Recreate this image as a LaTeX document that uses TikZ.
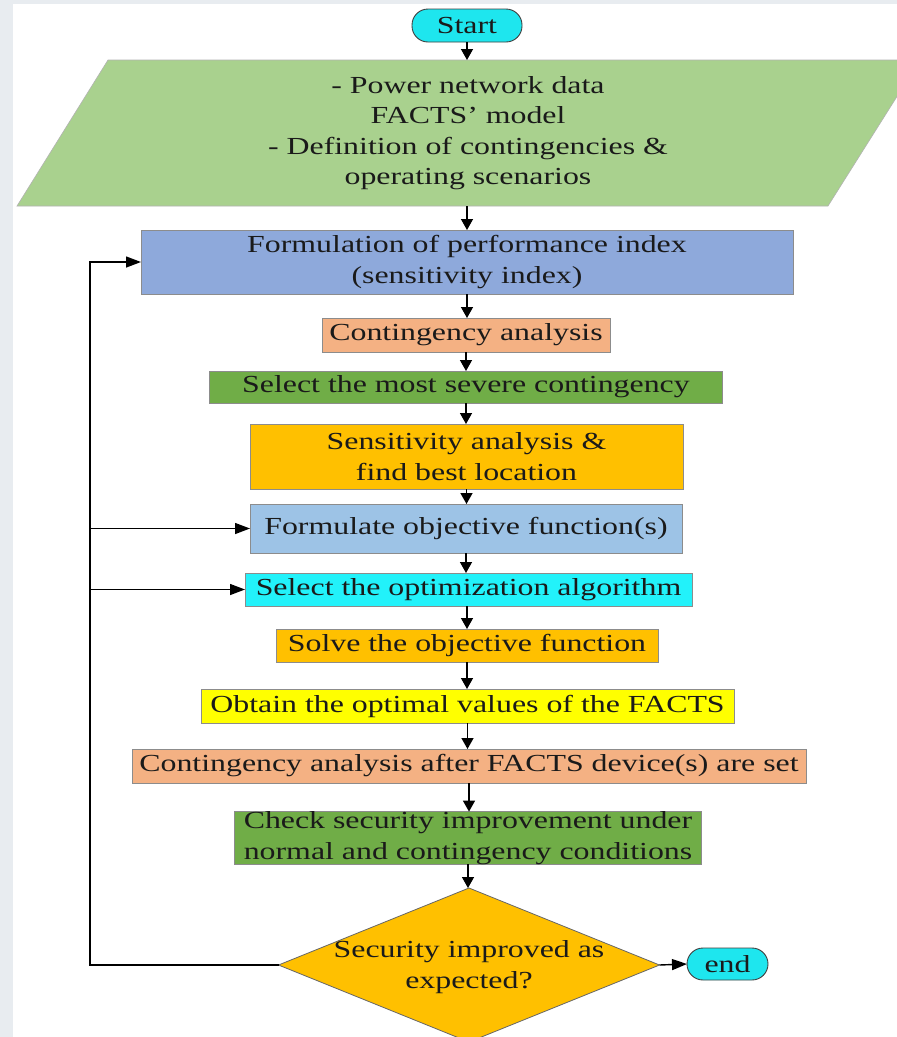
\documentclass[tikz,border=0pt]{standalone}
\usepackage{fontspec}
\setmainfont[FakeStretch=1.3]{Liberation Serif}
\usetikzlibrary{shapes.geometric,arrows.meta}
\definecolor{bggray}{HTML}{E8ECF0}
\definecolor{termcyan}{HTML}{1EE6EE}
\definecolor{algcyan}{HTML}{22F2FA}
\definecolor{greenA}{HTML}{A9D18E}
\definecolor{greenB}{HTML}{70AD47}
\definecolor{blueA}{HTML}{8EA9DB}
\definecolor{blueB}{HTML}{9DC3E6}
\definecolor{salmon}{HTML}{F4B183}
\definecolor{gold}{HTML}{FFC000}
\definecolor{yellowA}{HTML}{FFFF00}
\definecolor{txtdark}{HTML}{1A1A1A}
\begin{document}
\begin{tikzpicture}[x=1pt,y=-1pt,
  every node/.style={inner sep=0pt, outer sep=0pt},
  txt/.style={font=\fontsize{24.5}{30.5}\selectfont, text=txtdark, align=center},
  proc/.style={txt, rectangle, draw=black!45, line width=0.6pt},
  term/.style={txt, rectangle, draw=black!75, line width=0.9pt, fill=termcyan, rounded corners=16pt},
  varr/.style={-{Triangle[length=11pt,width=12pt]}, line width=1.4pt},
  harr/.style={-{Triangle[length=15pt,width=11pt]}, line width=1.4pt},
  plainline/.style={line width=1.4pt}]
\useasboundingbox (0,0) rectangle (897,1037);
\fill[bggray] (0,0) rectangle (897,1037);
\fill[white] (13,4) rectangle (897,1037);
\begin{scope}
  \clip (13,4) rectangle (897,1037);
  \filldraw[fill=greenA, draw=black!30, line width=0.6pt] (108,60) -- (920,60) -- (828,206) -- (17,206) -- cycle;
  \node[diamond, fill=gold, draw=black!60, line width=0.8pt, minimum width=381pt, minimum height=154pt] (dec) at (469,965) {};
\end{scope}

\node[term, minimum width=110pt, minimum height=33pt] (start) at (467,25.5) {Start};
\node[txt, minimum width=700pt, minimum height=146pt] (data) at (468,133)
  {- Power network data\\FACTS’ model\\- Definition of contingencies \&\\operating scenarios};
\node[proc, fill=blueA, minimum width=652pt, minimum height=64pt] (perf) at (467,262)
  {Formulation of performance index\\(sensitivity index)};
\node[proc, fill=salmon, minimum width=288pt, minimum height=34pt] (ca) at (466,335) {Contingency analysis};
\node[proc, fill=greenB, minimum width=513pt, minimum height=32pt] (sev) at (466,387) {Select the most severe contingency};
\node[proc, fill=gold, minimum width=433pt, minimum height=65pt] (sens) at (466.5,456.5)
  {Sensitivity analysis \&\\find best location};
\node[proc, fill=blueB, minimum width=432pt, minimum height=49pt] (obj) at (466,528.5) {Formulate objective function(s)};
\node[proc, fill=algcyan, minimum width=447pt, minimum height=33pt] (alg) at (468.5,589.5) {Select the optimization algorithm};
\node[proc, fill=gold, minimum width=382pt, minimum height=33pt] (solve) at (467,645.5) {Solve the objective function};
\node[proc, fill=yellowA, minimum width=533pt, minimum height=34pt] (opt) at (467.5,706) {Obtain the optimal values of the FACTS};
\node[proc, fill=salmon, minimum width=674pt, minimum height=34pt] (after) at (469,766) {Contingency analysis after FACTS device(s) are set};
\node[proc, fill=greenB, minimum width=467pt, minimum height=52pt] (check) at (468,838)
  {Check security improvement under\\normal and contingency conditions};
\node[txt] (dectext) at (469,967) {Security improved as\\expected?};
\node[term, minimum width=81pt, minimum height=32pt] (end) at (727.5,964) {end};

\draw[varr] (start.south) -- (start.south |- data.north);
\draw[varr] (start.south |- data.south) -- (start.south |- perf.north);
\draw[varr] (perf.south) -- (perf.south |- ca.north);
\draw[varr] (ca.south) -- (ca.south |- sev.north);
\draw[varr] (sev.south) -- (sev.south |- sens.north);
\draw[varr] (sens.south) -- (sens.south |- obj.north);
\draw[varr] (obj.south) -- (obj.south |- alg.north);
\draw[varr] (solve.north |- alg.south) -- (solve.north);
\draw[varr] (solve.south) -- (solve.south |- opt.north);
\draw[varr] (opt.south) -- (opt.south |- after.north);
\draw[varr] (after.south) -- (after.south |- check.north);
\draw[varr] (check.south) -- (check.south |- dec.north);
\draw[harr] (dec.east) -- (end.west);

\coordinate (fb) at (90,965);
\draw[harr] (dec.west) -- (fb) |- (perf.west);
\draw[harr] (fb |- obj.west) -- (obj.west);
\draw[harr] (fb |- alg.west) -- (alg.west);
\end{tikzpicture}
\end{document}
